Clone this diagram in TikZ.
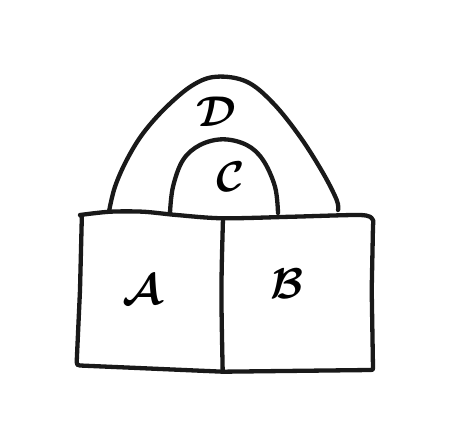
\documentclass[tikz,border=0pt]{standalone}
\usepackage{bm}
\begin{document}
\begin{tikzpicture}[x=1pt,y=-1pt,
  ink/.style={line width=4.3pt, line cap=round, line join=round, black!90},
  lbl/.style={scale=4.3, inner sep=0pt}]
\useasboundingbox (0,0) rectangle (451,448);
% arch D
\draw[ink] plot[smooth, tension=0.6] coordinates {(109.3,210) (115,186.7) (126.7,160) (143.3,133) (166.7,106.7) (193,85) (216.7,76.7) (246.7,81.7) (273,103) (300,136.7) (323,173) (336.7,200) (338,210)};
% arch C
\draw[ink] plot[smooth, tension=0.6] coordinates {(170,212.7) (173,186.7) (183,160) (200,145) (223,139.3) (246.7,145) (263,160) (275,186.7) (278,213)};
% box outline
\draw[ink] plot[smooth, tension=0.5] coordinates {(80,215) (110,211.7) (143,211.7) (176.7,215) (223,218.3) (293,216.7) (360,215) (371.7,218.3)}
  .. controls (373.5,220) .. (373,226) -- (371.7,290) -- (373,368)
  .. controls (373,370) .. (370,370) -- (223,371.7) -- (80,365.5)
  .. controls (77,365) .. (76.7,362) -- (80,290) -- (81.7,222)
  .. controls (82,216) .. (80,215);
% divider
\draw[ink] (223,218.3) .. controls (221,290) .. (222.7,371.7);
% labels
\node[lbl] (D) at (216,112) {$\bm{\mathcal{D}}$};
\node[lbl] (C) at (231,177) {$\bm{\mathcal{C}}$};
\node[lbl] (A) at (142,290) {$\bm{\mathcal{A}}$};
\node[lbl] (B) at (287,284) {$\bm{\mathcal{B}}$};
\end{tikzpicture}
\end{document}
